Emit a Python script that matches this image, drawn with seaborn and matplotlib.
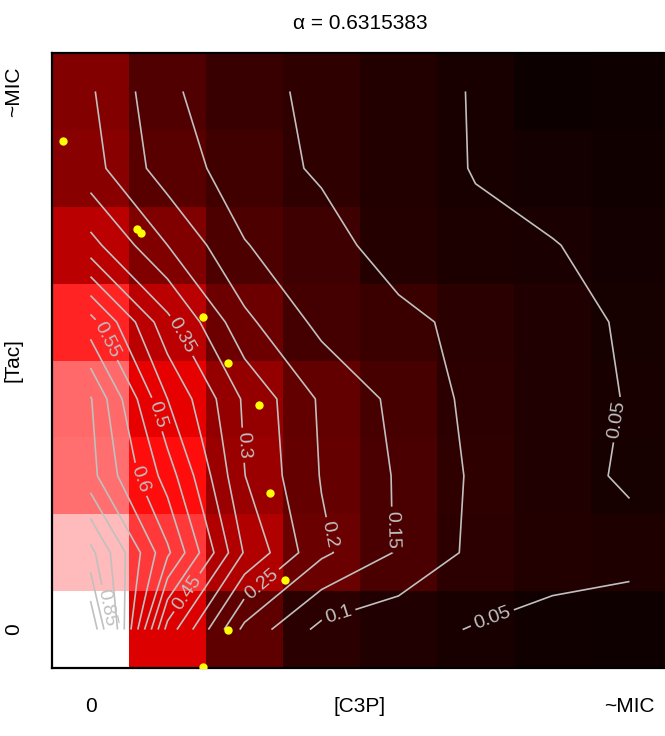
import numpy as np
import pandas as pd
import seaborn as sns
import matplotlib.pyplot as plt
from matplotlib.colors import LinearSegmentedColormap

# normalised growth, one list per [Tac] step (0 -> ~MIC), values along [C3P] (0 -> ~MIC)
growth_tac0 = [1.000, 0.430, 0.185, 0.085, 0.065, 0.047, 0.035, 0.030]
growth_tac1 = [0.866, 0.610, 0.345, 0.210, 0.145, 0.088, 0.069, 0.062]
growth_tac2 = [0.717, 0.527, 0.301, 0.197, 0.145, 0.092, 0.063, 0.045]
growth_tac3 = [0.704, 0.450, 0.292, 0.192, 0.137, 0.086, 0.065, 0.048]
growth_tac4 = [0.570, 0.364, 0.212, 0.136, 0.115, 0.083, 0.065, 0.0445]
growth_tac5 = [0.367, 0.250, 0.152, 0.123, 0.073, 0.058, 0.051, 0.042]
growth_tac6 = [0.269, 0.174, 0.127, 0.092, 0.068, 0.048, 0.040, 0.035]
growth_tac7 = [0.256, 0.160, 0.110, 0.093, 0.070, 0.047, 0.025, 0.030]

# observed points (in grid-step units)
pts_c3p = [-0.36, 0.60, 0.65, 1.46, 1.79, 2.19, 2.33, 2.53, 1.78, 1.46]
pts_tac = [6.36, 5.21, 5.16, 4.07, 3.47, 2.92, 1.78, 0.64, -0.01, -0.49]

alpha = 0.6315383
levels = np.round(np.arange(0.05, 1.0, 0.05), 2)

# where the contour labels go (level, x, y) in heatmap coords
label_spots = [(0.85, 0.66, 7.22), (0.6, 1.14, 5.55), (0.55, 0.71, 3.73),
               (0.5, 1.34, 4.71), (0.45, 1.70, 6.98), (0.35, 1.66, 3.69),
               (0.3, 2.51, 5.10), (0.25, 2.73, 6.92), (0.2, 3.57, 6.27),
               (0.15, 4.43, 6.20), (0.1, 3.77, 7.46), (0.05, 5.69, 7.27),
               (0.05, 7.34, 4.77)]

rows = [growth_tac7, growth_tac6, growth_tac5, growth_tac4,
        growth_tac3, growth_tac2, growth_tac1, growth_tac0]
df = pd.DataFrame(rows)

sns.set_style("white")
plt.rcParams['font.family'] = ['Liberation Sans', 'DejaVu Sans']
plt.rcParams['text.color'] = 'black'
plt.rcParams['xtick.color'] = 'black'
plt.rcParams['ytick.color'] = 'black'

cmap = LinearSegmentedColormap.from_list("bkrw", ["black", "red", "white"])

fig = plt.figure(figsize=(6.65, 7.36), dpi=100)
ax = fig.add_axes([52 / 665, 68 / 736, 616 / 665, 615 / 736])

sns.heatmap(df, cmap=cmap, vmin=0, vmax=1, cbar=False, ax=ax,
            xticklabels=False, yticklabels=False)

n = df.shape[0]
xc = np.arange(n) + 0.5
yc = np.arange(n) + 0.5
for lev in levels:
    cs = ax.contour(xc, yc, df.values, levels=[lev], colors="#c0c0c0",
                    linewidths=1.2)
    spots = [(x, y) for l, x, y in label_spots if abs(l - lev) < 1e-9]
    if spots:
        cs.clabel(manual=spots, inline=True, fontsize=14, fmt="%g",
                  colors="#c0c0c0", inline_spacing=4)

sns.scatterplot(x=np.array(pts_c3p) + 0.5, y=n - 0.5 - np.array(pts_tac),
                color="yellow", s=36, linewidth=0, ax=ax, zorder=5)

ax.set_xlim(0, n)
ax.set_ylim(n, 0)
ax.set_xticks([0.5, n / 2, n - 0.5])
ax.set_xticklabels(["0", "[C3P]", "~MIC"], fontsize=15)
ax.set_yticks([n - 0.5, n / 2, 0.5])
ax.set_yticklabels(["0", "[Tac]", "~MIC"], fontsize=15, rotation=90,
                   va="center")
ax.tick_params(axis="x", length=0, pad=21)
ax.tick_params(axis="y", length=0, pad=21)
ax.set_xlabel("")
ax.set_ylabel("")
for sp in ax.spines.values():
    sp.set_visible(True)
    sp.set_color("black")
    sp.set_linewidth(1.6)

ax.set_title(f"\u03b1 = {alpha}", fontsize=15, pad=17)

fig.savefig("out.png", dpi=100)
